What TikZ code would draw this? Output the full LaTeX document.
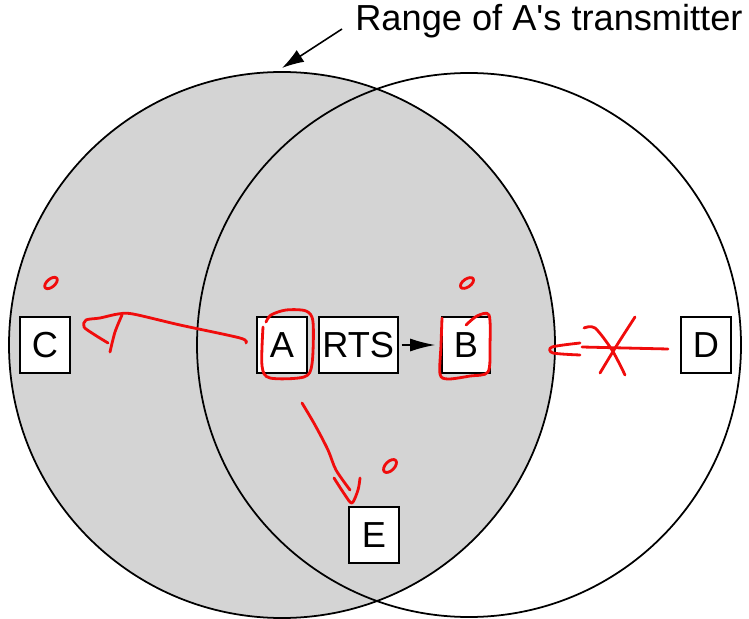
\documentclass[tikz,border=0pt]{standalone}
\usepackage{fontspec}
\setmainfont{Liberation Sans}
\usetikzlibrary{positioning,arrows.meta}
\definecolor{rangegray}{RGB}{212,212,212}
\definecolor{inkred}{RGB}{240,12,12}

\begin{document}
\begin{tikzpicture}[x=0.2mm,y=-0.2mm,
    every node/.style={font=\fontsize{20.6}{24}\selectfont},
    station/.style={draw,fill=white,line width=1pt,minimum width=1cm,minimum height=1.12cm,inner sep=1pt},
    ink/.style={inkred,line width=1.6pt,line cap=round,line join=round}]
  \useasboundingbox (0,0) rectangle (749,619);
  % ranges of the two transmitters
  \coordinate (rangeA) at (282,345);
  \coordinate (rangeB) at (469,345);
  \fill[rangegray] (rangeA) circle[radius=5.46cm];
  \draw[line width=1pt] (rangeB) circle[radius=5.44cm];
  \draw[line width=1pt] (rangeA) circle[radius=5.46cm];
  % label
  \node[anchor=base west,inner sep=0pt] (range) at (355,31) {Range of A\textquotesingle s transmitter};
  \coordinate (rangetip) at (282,68);
  \draw[line width=0.9pt,-{Latex[length=4.4mm,width=2.8mm]}] ([shift={(-13,-2)}]range.base west) -- (rangetip);
  % stations
  \node[station] (C) at (45,345) {C};
  \node[station] (A) at (282,345) {A};
  \node[station,minimum width=1.58cm,right=2mm of A] (RTS) {RTS};
  \node[station,minimum width=0.96cm] (B) at (466,345) {B};
  \node[station] (D) at (706,345) {D};
  \node[station] (E) at (374,535) {E};
  \draw[line width=0.8pt,-{Latex[length=5mm,width=2.6mm]},shorten <=0.6mm,shorten >=1.2mm] (RTS) -- (B);
  % red pen notes
  \draw[ink] plot[smooth] coordinates {(263,327) (262,366) (270,378) (304,377) (312,364) (313,322) (306,311) (286,310) (271,315) (266,322)};
  \draw[ink] plot[smooth] coordinates {(466,325) (477,316) (489,315) (490,345) (488,372) (470,376) (448,379) (440,374) (441,345) (442,318)};
  \draw[ink] plot[smooth] coordinates {(246,343) (240,338) (180,325) (133,314) (118,314) (100,318) (86,320) (84,327) (95,335) (108,343)};
  \draw[ink] plot[smooth] coordinates {(122,315) (115,332) (110,352)};
  \draw[ink] (668,349) -- (582,347);
  \draw[ink] plot[smooth] coordinates {(580,343) (552,347) (553,353) (580,355)};
  \draw[ink] plot[smooth] coordinates {(635,317) (617,345) (600,373)};
  \draw[ink] plot[smooth] coordinates {(584,328) (595,328) (612,350) (625,375)};
  \draw[ink] plot[smooth] coordinates {(302,403) (315,425) (328,450) (336,470) (350,490)};
  \draw[ink] plot[smooth] coordinates {(334,478) (345,495) (352,503) (358,490) (360,478)};
  \draw[ink] (51,283) ellipse[x radius=1.5mm,y radius=0.8mm,rotate=40];
  \draw[ink] (467,283) ellipse[x radius=1.5mm,y radius=0.8mm,rotate=35];
  \draw[ink] (390,466) ellipse[x radius=1.6mm,y radius=0.9mm,rotate=45];
\end{tikzpicture}
\end{document}
